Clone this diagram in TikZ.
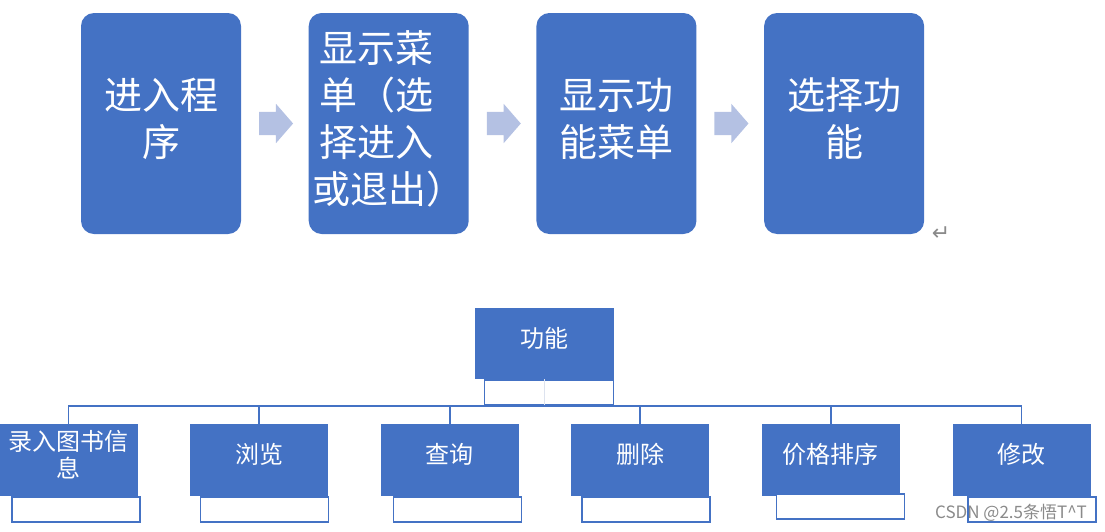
\documentclass[tikz,border=0pt]{standalone}
\usepackage{fontspec}
\newfontfamily\cjk{Noto Sans CJK SC}
\newfontfamily\symfont{DejaVu Sans}
\usetikzlibrary{shapes.arrows}
\definecolor{boxblue}{HTML}{4472C4}
\definecolor{arrowblue}{HTML}{B4C1E3}
\definecolor{stemgray}{HTML}{DDE3EF}
\definecolor{markgray}{HTML}{8A8A8A}
\tikzstyle{stepbox} = [rectangle, rounded corners=13pt, minimum width=160pt, minimum height=221pt, inner sep=0pt, text depth=12pt, fill=boxblue, text=white, align=center, font=\cjk\fontsize{38}{47}\selectfont]
\tikzstyle{flow} = [single arrow, single arrow head extend=8pt, single arrow tip angle=98, minimum width=39pt, minimum height=34pt, inner xsep=0pt, inner ysep=11.5pt, fill=arrowblue]
\tikzstyle{func} = [rectangle, minimum width=138pt, minimum height=72pt, inner sep=0pt, text depth=13pt, fill=boxblue, text=white, align=center, font=\cjk\fontsize{24}{27}\selectfont]
\tikzstyle{slot} = [rectangle, minimum width=128pt, minimum height=25pt, anchor=north west, fill=white, draw=boxblue, line width=1.5pt]
\tikzstyle{link} = [draw=boxblue, line width=1.8pt]
\tikzstyle{stem} = [draw=stemgray, line width=1.5pt]

\begin{document}
\begin{tikzpicture}[x=1pt, y=-1pt, node distance=227.7pt]
    \useasboundingbox (0,0) rectangle (1105,531);

    % main flow
    \node (enter) [stepbox] at (161,123.5) {进入程\\序};
    \node (menu) [stepbox, right of=enter] {\hspace*{-24pt}显示菜\\\hspace*{-24pt}单（选\\\hspace*{-24pt}择进入\\或退出）};
    \node (funcmenu) [stepbox, right of=menu] {显示功\\能菜单};
    \node (choose) [stepbox, right of=funcmenu] {选择功\\能};
    \node (ar1) [flow, right of=enter, node distance=110pt] {};
    \node (ar2) [flow, right of=menu, node distance=110pt] {};
    \node (ar3) [flow, right of=funcmenu, node distance=110pt] {};
    \node (ret) [text=markgray, font=\symfont\fontsize{22}{22}\selectfont] at (941,234) {↵};

    % function tree
    \node (feature) [func, minimum width=139pt, minimum height=71pt] at (544.5,343.5) {功能};
    \node (entry) [func] at (68.5,460) {录入图书信\\息};
    \node (browse) [func, right of=entry, node distance=190.6pt] {浏览};
    \node (query) [func, right of=browse, node distance=190.6pt] {查询};
    \node (remove) [func, right of=query, node distance=190.6pt] {删除};
    \node (sortprice) [func, right of=remove, node distance=190.6pt] {价格排序};
    \node (modify) [func, right of=sortprice, node distance=190.6pt] {修改};

    \node (featureslot) [slot, minimum width=129pt, xshift=9pt] at (feature.south west) {};
    \node (entryslot) [slot, xshift=12pt] at (entry.south west) {};
    \node (browseslot) [slot, xshift=10pt] at (browse.south west) {};
    \node (queryslot) [slot, xshift=12pt] at (query.south west) {};
    \node (removeslot) [slot, xshift=10pt] at (remove.south west) {};
    \node (sortpriceslot) [slot, xshift=14pt, yshift=3pt] at (sortprice.south west) {};
    \node (modifyslot) [slot, xshift=15pt] at (modify.south west) {};

    \coordinate (bus) at (0,406);
    \draw [stem] (feature.south) -- (feature.south |- bus);
    \draw [link] (feature.south |- bus) -| (entry.north);
    \draw [link] (feature.south |- bus) -| (browse.north);
    \draw [link] (feature.south |- bus) -| (query.north);
    \draw [link] (feature.south |- bus) -| (remove.north);
    \draw [link] (feature.south |- bus) -| (sortprice.north);
    \draw [link] (feature.south |- bus) -| (modify.north);

    \node (mark) [text=markgray, font=\cjk\fontsize{17}{17}\selectfont] at (1011,513) {CSDN @2.5条悟T\textasciicircum T};
\end{tikzpicture}
\end{document}
